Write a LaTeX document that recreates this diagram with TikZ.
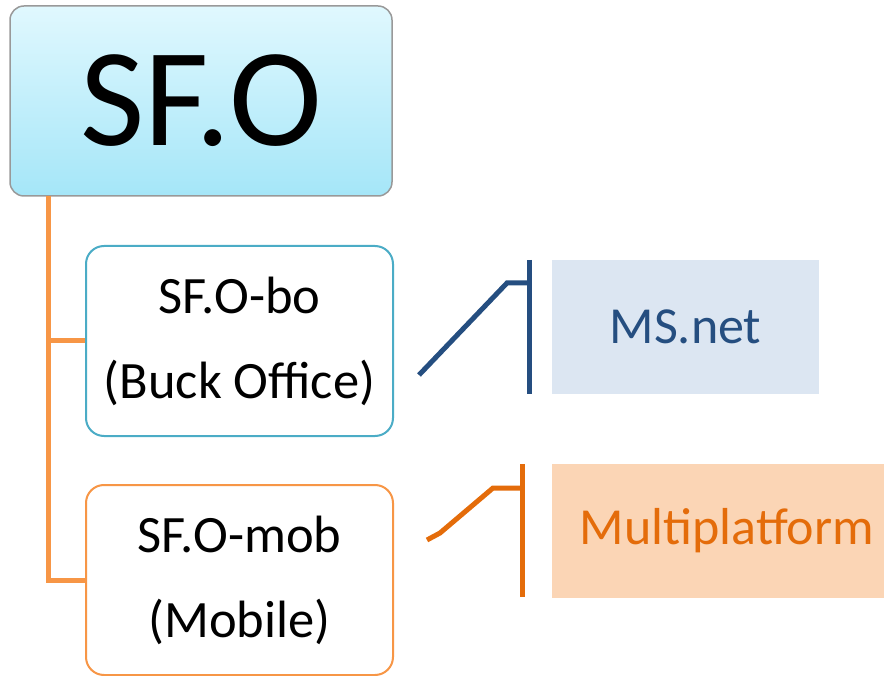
\documentclass[tikz,border=0pt]{standalone}
\usepackage{fontspec}
\setmainfont{Carlito}
\definecolor{trunkorange}{HTML}{F79646}
\definecolor{boblue}{HTML}{4BACC6}
\definecolor{netblue}{HTML}{254E80}
\definecolor{netfill}{HTML}{DCE6F2}
\definecolor{mporange}{HTML}{E46C0A}
\definecolor{mpfill}{HTML}{FBD5B5}
\definecolor{rooftop}{HTML}{E0F8FE}
\definecolor{roofbot}{HTML}{A5E6F8}

\begin{document}
\begin{tikzpicture}[x=1pt,y=-1pt,
  root/.style={draw=gray!80, line width=1.5pt, rounded corners=14pt, top color=rooftop, bottom color=roofbot,
    minimum width=382pt, minimum height=190pt, font=\fontsize{140}{140}\selectfont},
  leaf/.style={draw, fill=white, line width=2pt, rounded corners=18pt, minimum width=307pt, minimum height=190pt,
    align=center, font=\fontsize{52.5}{85}\selectfont},
  tag/.style={inner sep=0pt, minimum height=134pt, font=\fontsize{52}{60}\selectfont},
  trunk/.style={trunkorange, line width=5pt},
  bracket/.style={line width=5pt}]
\useasboundingbox (0,0) rectangle (884,676);
\node[root](sfo) at (201,101) {SF.O};
\node[leaf, draw=boblue](bo) at (239.5,341) {SF.O-bo\\(Buck Office)};
\node[leaf, draw=trunkorange](mob) at (239.5,580) {SF.O-mob\\(Mobile)};
\node[tag, fill=netfill, text=netblue, minimum width=267pt](net) at (685.5,327) {MS.net};
\node[tag, fill=mpfill, text=mporange, minimum width=350pt](mp) at (727,531) {Multiplatform};
\coordinate (top) at (48,196);
\draw[trunk] (top) |- (mob.west);
\draw[trunk] (top |- bo.west) -- (bo.west);
\coordinate (netT) at (529,260);
\coordinate (netB) at (529,394);
\coordinate (netfoot) at (419,375);
\coordinate (netknee) at (507,283);
\draw[bracket, netblue] (netT) -- (netB);
\draw[bracket, netblue] (netfoot) -- (netknee) -- (netknee -| netT);
\coordinate (mpT) at (522,464);
\coordinate (mpB) at (522,597);
\coordinate (mpfoot) at (427,540);
\coordinate (mpknee) at (493,488);
\draw[bracket, mporange] (mpT) -- (mpB);
\draw[bracket, mporange] (mpfoot) -- (440,533) -- (mpknee) -- (mpknee -| mpT);
\end{tikzpicture}
\end{document}
